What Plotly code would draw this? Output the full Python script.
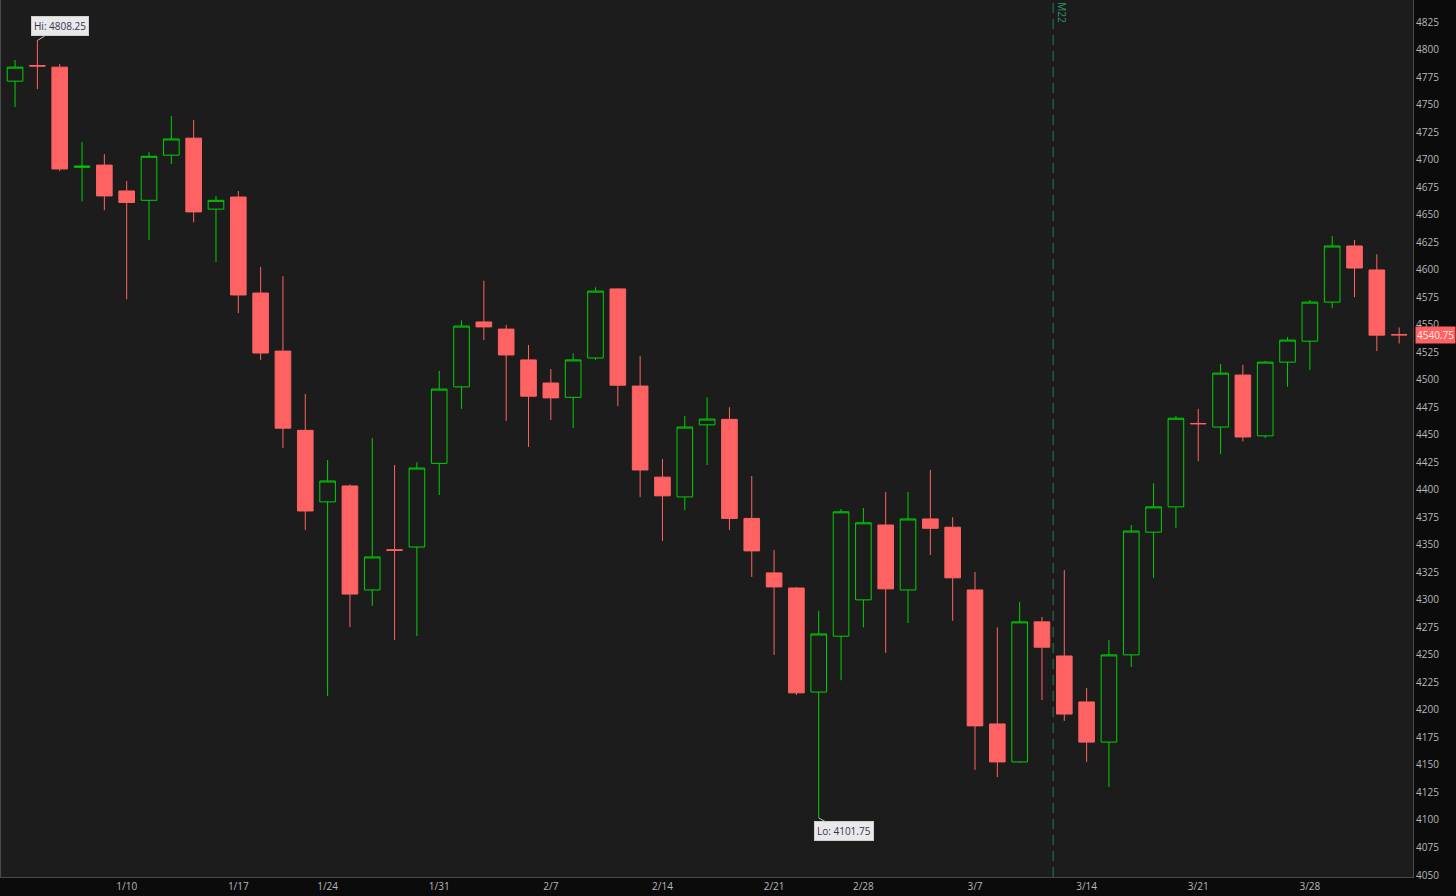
import plotly.graph_objects as go

dates = [
    "2022-01-03", "2022-01-04", "2022-01-05", "2022-01-06", "2022-01-07",
    "2022-01-10", "2022-01-11", "2022-01-12", "2022-01-13", "2022-01-14",
    "2022-01-18", "2022-01-19", "2022-01-20", "2022-01-21",
    "2022-01-24", "2022-01-25", "2022-01-26", "2022-01-27", "2022-01-28",
    "2022-01-31", "2022-02-01", "2022-02-02", "2022-02-03", "2022-02-04",
    "2022-02-07", "2022-02-08", "2022-02-09", "2022-02-10", "2022-02-11",
    "2022-02-14", "2022-02-15", "2022-02-16", "2022-02-17", "2022-02-18",
    "2022-02-22", "2022-02-23", "2022-02-24", "2022-02-25",
    "2022-02-28", "2022-03-01", "2022-03-02", "2022-03-03", "2022-03-04",
    "2022-03-07", "2022-03-08", "2022-03-09", "2022-03-10", "2022-03-11",
    "2022-03-14", "2022-03-15", "2022-03-16", "2022-03-17", "2022-03-18",
    "2022-03-21", "2022-03-22", "2022-03-23", "2022-03-24", "2022-03-25",
    "2022-03-28", "2022-03-29", "2022-03-30", "2022-03-31", "2022-04-01",
]

opens = [
    4771.25, 4785.5, 4784.0, 4693.0, 4695.0,
    4671.5, 4663.0, 4704.0, 4719.5, 4655.0,
    4666.0, 4578.75, 4526.0, 4454.0,
    4389.0, 4403.5, 4309.0, 4345.5, 4348.0,
    4424.0, 4493.5, 4552.5, 4546.0, 4518.0,
    4497.0, 4484.0, 4519.75, 4582.5, 4494.25,
    4411.5, 4393.5, 4459.0, 4464.0, 4374.0,
    4324.5, 4310.75, 4216.25, 4267.0,
    4300.0, 4368.0, 4309.0, 4373.5, 4366.0,
    4309.0, 4187.25, 4152.75, 4280.0, 4249.0,
    4207.25, 4170.75, 4250.0, 4361.5, 4384.5,
    4460.25, 4457.0, 4504.25, 4449.0, 4516.0,
    4535.0, 4570.5, 4621.5, 4599.75, 4541.0,
]
highs = [
    4790.5, 4808.25, 4787.0, 4716.0, 4705.0,
    4680.5, 4706.75, 4739.5, 4736.0, 4667.0,
    4671.5, 4602.5, 4594.0, 4487.0,
    4427.0, 4405.0, 4447.0, 4422.5, 4425.0,
    4508.0, 4554.0, 4590.0, 4549.75, 4531.5,
    4509.75, 4524.0, 4584.0, 4583.0, 4521.5,
    4428.0, 4467.0, 4484.0, 4475.0, 4412.5,
    4345.25, 4311.75, 4290.0, 4382.5,
    4383.5, 4398.0, 4398.0, 4418.0, 4375.0,
    4325.25, 4275.0, 4298.0, 4284.5, 4327.0,
    4220.0, 4263.5, 4368.0, 4406.0, 4467.0,
    4473.5, 4514.25, 4513.5, 4517.0, 4538.75,
    4572.5, 4630.5, 4627.0, 4614.0, 4547.5,
]
lows = [
    4747.75, 4764.0, 4689.5, 4662.0, 4654.0,
    4573.0, 4627.0, 4696.0, 4643.0, 4607.0,
    4560.5, 4518.0, 4438.0, 4363.5,
    4212.5, 4275.25, 4294.5, 4263.5, 4267.0,
    4395.25, 4473.5, 4536.0, 4462.5, 4439.0,
    4463.5, 4456.0, 4518.0, 4476.0, 4393.5,
    4353.5, 4381.5, 4422.5, 4363.5, 4320.75,
    4250.0, 4213.5, 4101.75, 4227.0,
    4275.0, 4251.75, 4279.0, 4340.75, 4281.0,
    4145.5, 4139.0, 4152.0, 4209.0, 4190.0,
    4152.75, 4130.0, 4239.0, 4320.0, 4365.25,
    4426.0, 4432.5, 4444.0, 4447.0, 4493.5,
    4508.75, 4565.0, 4575.0, 4526.0, 4533.0,
]
closes = [
    4784.0, 4785.0, 4691.5, 4694.0, 4667.0,
    4661.0, 4703.0, 4718.75, 4652.5, 4663.0,
    4577.0, 4524.25, 4456.0, 4380.75,
    4408.0, 4305.25, 4339.0, 4345.0, 4419.75,
    4491.5, 4548.75, 4548.0, 4522.5, 4485.0,
    4483.5, 4518.0, 4580.5, 4495.0, 4418.0,
    4394.5, 4457.0, 4464.25, 4374.0, 4344.5,
    4311.75, 4215.5, 4269.0, 4380.0,
    4370.0, 4310.0, 4373.5, 4365.0, 4320.0,
    4185.5, 4152.75, 4280.0, 4257.0, 4196.25,
    4170.75, 4250.0, 4362.5, 4384.5, 4465.0,
    4460.0, 4506.0, 4448.0, 4516.0, 4536.0,
    4570.5, 4621.5, 4601.5, 4540.5, 4540.75,
]

tick_dates = ["2022-01-10", "2022-01-18", "2022-01-24", "2022-01-31", "2022-02-07",
              "2022-02-14", "2022-02-22", "2022-02-28", "2022-03-07", "2022-03-14",
              "2022-03-21", "2022-03-28"]
tick_labels = ["1/10", "1/17", "1/24", "1/31", "2/7", "2/14", "2/21", "2/28",
               "3/7", "3/14", "3/21", "3/28"]
price_ticks = list(range(4050, 4826, 25))

hi_value = 4808.25
lo_value = 4101.75
last_price = 4540.75
roll_label = "M22"

GREEN = "#00d000"
RED = "#ff6262"
FONT = "Open Sans, Noto Sans, sans-serif"

fig = go.Figure()
fig.add_trace(go.Candlestick(
    x=dates, open=opens, high=highs, low=lows, close=closes,
    increasing=dict(line=dict(color=GREEN, width=1), fillcolor="rgba(0,0,0,0)"),
    decreasing=dict(line=dict(color=RED, width=1), fillcolor=RED),
    whiskerwidth=0, showlegend=False, hoverinfo="skip",
))

hi_idx = highs.index(hi_value)
lo_idx = lows.index(lo_value)

fig.add_annotation(
    x=dates[hi_idx], y=hi_value, text=f"Hi: {hi_value:.2f}",
    showarrow=True, arrowhead=0, arrowwidth=1, arrowcolor="#bbbbbb",
    ax=23, ay=-14, bgcolor="#e9e9e9", bordercolor="#cfcfcf", borderwidth=1,
    borderpad=2, font=dict(family=FONT, size=10, color="#3a3050"),
)
fig.add_annotation(
    x=dates[lo_idx], y=lo_value, text=f"Lo: {lo_value:.2f}",
    showarrow=True, arrowhead=0, arrowwidth=1, arrowcolor="#bbbbbb",
    ax=25, ay=13, bgcolor="#e9e9e9", bordercolor="#cfcfcf", borderwidth=1,
    borderpad=2, font=dict(family=FONT, size=10, color="#3a3050"),
)
fig.add_annotation(
    xref="paper", x=1.0, y=last_price, xanchor="left", xshift=2,
    text=f"{last_price:.2f}", showarrow=False, bgcolor=RED,
    borderpad=1, font=dict(family=FONT, size=10, color="#fff0f0"),
)

roll_x = dates.index("2022-03-10") + 0.5
fig.add_shape(type="line", xref="x", yref="paper", x0=roll_x, x1=roll_x, y0=0, y1=1,
              line=dict(color="#2a7a55", width=1, dash="10px,6px"))
fig.add_annotation(
    x=roll_x, xref="x", yref="paper", y=1.0, yanchor="top", xanchor="left",
    xshift=0, text=roll_label, textangle=90, showarrow=False,
    font=dict(family=FONT, size=10, color="#2a9a60"),
)

fig.update_layout(
    width=1456, height=896,
    margin=dict(l=1, r=43, t=0, b=19, autoexpand=False),
    paper_bgcolor="#0b0b0b", plot_bgcolor="#1c1c1c",
    font=dict(family=FONT, size=10, color="#b8b8b8"),
    boxgap=0.3, boxgroupgap=0.0,
    xaxis=dict(
        type="category", range=[-0.63, 62.62], rangeslider=dict(visible=False),
        tickmode="array", tickvals=tick_dates, ticktext=tick_labels,
        showgrid=False, zeroline=False, ticks="", automargin=False,
        showline=True, mirror=True, linecolor="#4a4a4a", linewidth=1,
        tickfont=dict(family=FONT, size=10, color="#b8b8b8"),
    ),
    yaxis=dict(
        side="right", range=[4048.2, 4845], tickmode="array", tickvals=price_ticks,
        showgrid=False, zeroline=False, ticks="", automargin=False,
        showline=True, mirror=True, linecolor="#4a4a4a", linewidth=1,
        tickfont=dict(family=FONT, size=10, color="#b8b8b8"),
    ),
)

fig.write_html(
    "out.html",
    config={"displayModeBar": False},
    post_script="document.body.style.margin='0';document.body.style.overflow='hidden';document.body.style.background='#0b0b0b';",
)
